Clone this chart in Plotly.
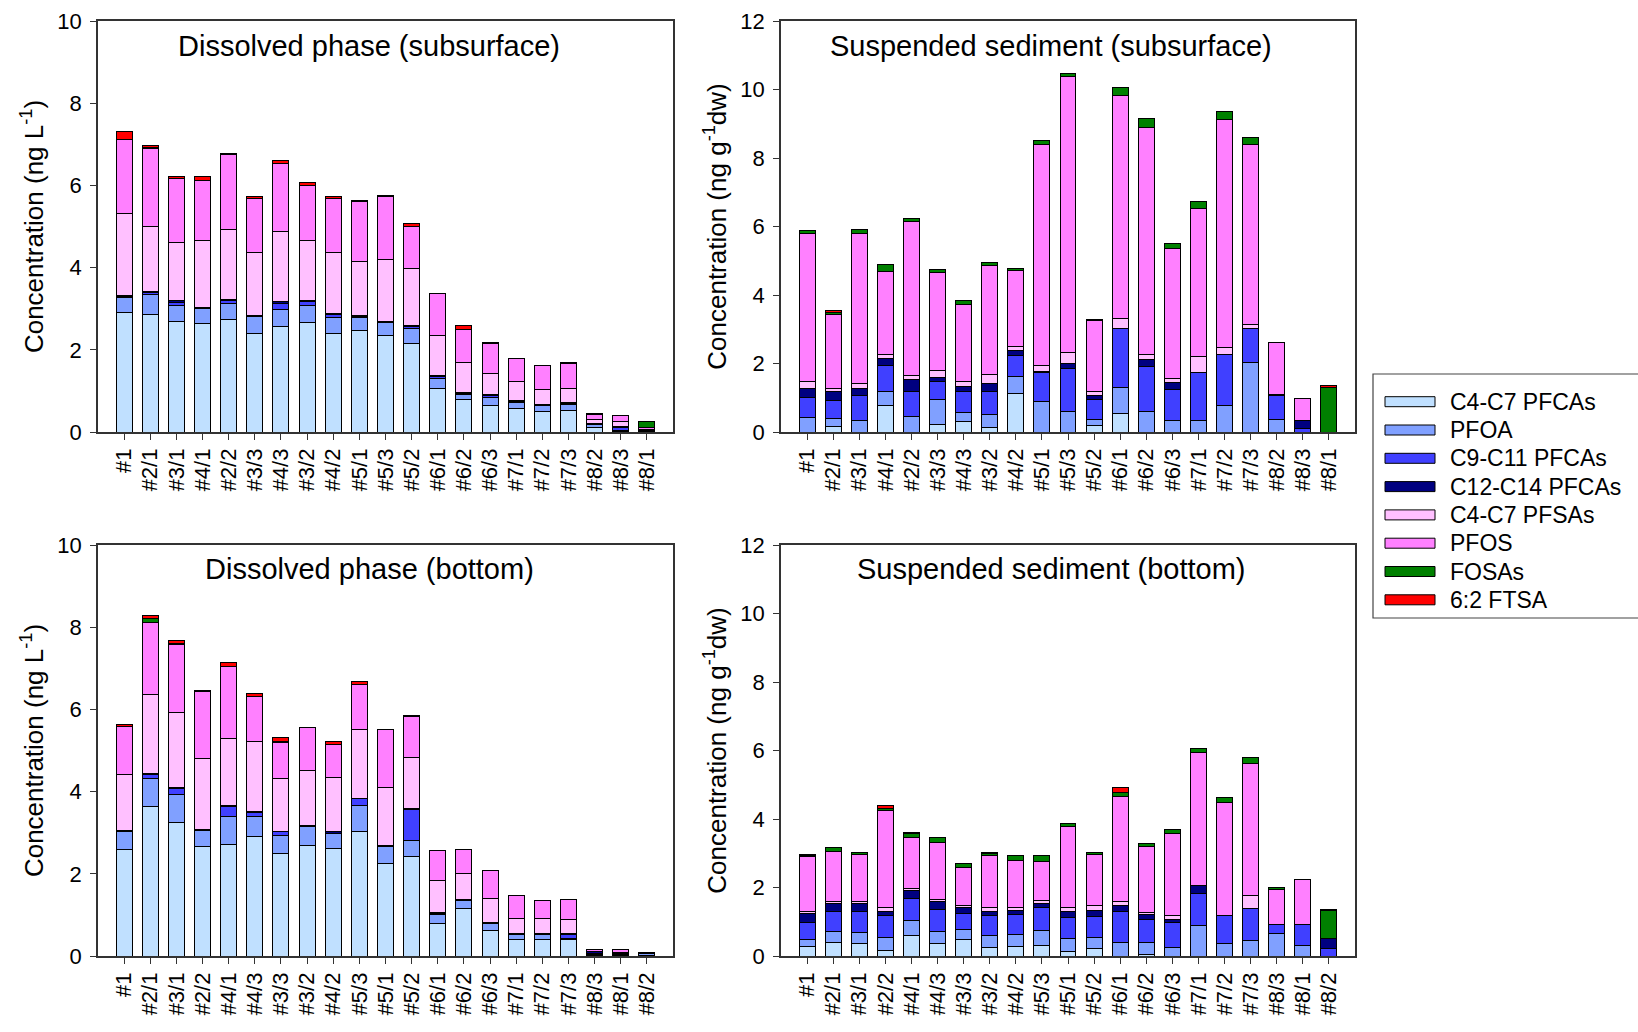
import plotly.graph_objects as go

# ---------------- data ----------------
SERIES = ["C4-C7 PFCAs", "PFOA", "C9-C11 PFCAs", "C12-C14 PFCAs",
          "C4-C7 PFSAs", "PFOS", "FOSAs", "6:2 FTSA"]
COLORS = ["#C0E0FF", "#80A0FF", "#4040FF", "#000080",
          "#FFC0FF", "#FF80FF", "#008000", "#FF0000"]

cats_top = ["#1", "#2/1", "#3/1", "#4/1", "#2/2", "#3/3", "#4/3", "#3/2", "#4/2", "#5/1", "#5/3",
            "#5/2", "#6/1", "#6/2", "#6/3", "#7/1", "#7/2", "#7/3", "#8/2", "#8/3", "#8/1"]
cats_bottom = ["#1", "#2/1", "#3/1", "#2/2", "#4/1", "#4/3", "#3/3", "#3/2", "#4/2", "#5/3", "#5/1",
               "#5/2", "#6/1", "#6/2", "#6/3", "#7/1", "#7/2", "#7/3", "#8/3", "#8/1", "#8/2"]

# Dissolved phase (subsurface), ng/L
ds_c4c7_pfca = [2.91, 2.87, 2.70, 2.65, 2.74, 2.39, 2.57, 2.67, 2.39, 2.47, 2.34, 2.16, 1.05, 0.78, 0.65, 0.57, 0.50, 0.52, 0.12, 0.02, 0.01]
ds_pfoa      = [0.37, 0.47, 0.39, 0.36, 0.39, 0.42, 0.40, 0.40, 0.39, 0.32, 0.32, 0.37, 0.24, 0.14, 0.19, 0.16, 0.15, 0.16, 0.06, 0.02, 0.01]
ds_c9c11     = [0.01, 0.05, 0.07, 0.01, 0.06, 0.01, 0.16, 0.10, 0.07, 0.01, 0.01, 0.04, 0.05, 0.01, 0.05, 0.01, 0.01, 0.01, 0.01, 0.06, 0.01]
ds_c12c14    = [0.02, 0.03, 0.03, 0.01, 0.03, 0.01, 0.04, 0.03, 0.03, 0.03, 0.03, 0.02, 0.03, 0.04, 0.03, 0.03, 0.01, 0.02, 0.02, 0.03, 0.01]
ds_c4c7_pfsa = [2.01, 1.57, 1.41, 1.62, 1.70, 1.54, 1.70, 1.45, 1.48, 1.32, 1.49, 1.39, 0.98, 0.72, 0.51, 0.47, 0.37, 0.35, 0.09, 0.13, 0.03]
ds_pfos      = [1.80, 1.91, 1.57, 1.46, 1.84, 1.32, 1.66, 1.34, 1.32, 1.45, 1.53, 1.03, 1.02, 0.81, 0.72, 0.55, 0.57, 0.61, 0.13, 0.14, 0.05]
ds_fosa      = [0, 0.02, 0, 0.02, 0, 0, 0, 0, 0, 0, 0, 0, 0, 0, 0, 0, 0, 0, 0, 0, 0.14]
ds_ftsa      = [0.18, 0.04, 0.04, 0.08, 0.01, 0.05, 0.08, 0.08, 0.04, 0.03, 0.04, 0.07, 0.01, 0.08, 0.03, 0.01, 0, 0.03, 0.01, 0, 0]

# Suspended sediment (subsurface), ng/g dw
ss_c4c7_pfca = [0, 0.15, 0, 0.78, 0, 0.21, 0.31, 0.14, 1.12, 0, 0, 0.18, 0.55, 0, 0, 0, 0, 0, 0, 0, 0]
ss_pfoa      = [0.41, 0.23, 0.33, 0.39, 0.46, 0.73, 0.26, 0.38, 0.50, 0.89, 0.60, 0.18, 0.75, 0.60, 0.34, 0.35, 0.77, 2.04, 0.36, 0, 0]
ss_c9c11     = [0.60, 0.54, 0.73, 0.76, 0.73, 0.54, 0.62, 0.67, 0.62, 0.86, 1.24, 0.58, 1.71, 1.31, 0.91, 1.39, 1.50, 0.97, 0.71, 0.09, 0]
ss_c12c14    = [0.25, 0.25, 0.22, 0.23, 0.34, 0.11, 0.14, 0.24, 0.13, 0.02, 0.17, 0.13, 0, 0.20, 0.20, 0, 0, 0.02, 0.02, 0.24, 0]
ss_c4c7_pfsa = [0.22, 0.11, 0.15, 0.09, 0.11, 0.20, 0.15, 0.26, 0.13, 0.17, 0.32, 0.10, 0.31, 0.16, 0.10, 0.45, 0.21, 0.10, 0, 0, 0]
ss_pfos      = [4.32, 2.14, 4.38, 2.45, 4.52, 2.87, 2.25, 3.17, 2.21, 6.44, 8.04, 2.08, 6.51, 6.62, 3.81, 4.34, 6.63, 5.25, 1.53, 0.64, 0]
ss_fosa      = [0.08, 0.07, 0.11, 0.20, 0.08, 0.09, 0.10, 0.09, 0.07, 0.14, 0.10, 0.04, 0.23, 0.25, 0.14, 0.19, 0.24, 0.22, 0, 0, 1.30]
ss_ftsa      = [0, 0.07, 0, 0, 0, 0, 0, 0, 0, 0, 0, 0, 0, 0, 0, 0, 0, 0, 0, 0, 0.05]

# Dissolved phase (bottom), ng/L
db_c4c7_pfca = [2.58, 3.63, 3.25, 2.66, 2.71, 2.90, 2.50, 2.70, 2.62, 3.04, 2.24, 2.41, 0.79, 1.16, 0.61, 0.41, 0.41, 0.41, 0.02, 0.01, 0.01]
db_pfoa      = [0.46, 0.68, 0.69, 0.40, 0.68, 0.49, 0.43, 0.46, 0.36, 0.61, 0.42, 0.41, 0.23, 0.19, 0.17, 0.12, 0.12, 0.02, 0.02, 0.01, 0.05]
db_c9c11     = [0, 0.11, 0.14, 0.02, 0.24, 0.10, 0.09, 0, 0.01, 0.18, 0.03, 0.75, 0.01, 0.01, 0.01, 0, 0, 0.10, 0.02, 0.01, 0.01]
db_c12c14    = [0.01, 0.01, 0.02, 0.01, 0.02, 0.02, 0.01, 0.01, 0.05, 0.01, 0.01, 0.01, 0.02, 0.02, 0.02, 0.02, 0.02, 0.02, 0.04, 0.04, 0.01]
db_c4c7_pfsa = [1.36, 1.94, 1.82, 1.71, 1.63, 1.70, 1.29, 1.35, 1.31, 1.68, 1.41, 1.26, 0.78, 0.63, 0.58, 0.37, 0.37, 0.35, 0.02, 0.01, 0]
db_pfos      = [1.18, 1.75, 1.67, 1.63, 1.77, 1.10, 0.87, 1.04, 0.79, 1.08, 1.39, 0.98, 0.73, 0.57, 0.68, 0.54, 0.44, 0.48, 0.04, 0.08, 0]
db_fosa      = [0, 0.08, 0.01, 0, 0, 0, 0.04, 0, 0.01, 0.01, 0, 0, 0, 0, 0, 0, 0, 0, 0, 0, 0]
db_ftsa      = [0.04, 0.08, 0.07, 0.02, 0.08, 0.07, 0.08, 0, 0.08, 0.08, 0, 0.03, 0, 0, 0, 0, 0, 0, 0.01, 0, 0]

# Suspended sediment (bottom), ng/g dw
sb_c4c7_pfca = [0.29, 0.39, 0.36, 0.17, 0.61, 0.36, 0.49, 0.26, 0.29, 0.31, 0.12, 0.22, 0, 0.05, 0, 0, 0, 0, 0, 0, 0]
sb_pfoa      = [0.20, 0.34, 0.34, 0.36, 0.43, 0.37, 0.29, 0.34, 0.34, 0.44, 0.40, 0.33, 0.39, 0.34, 0.24, 0.89, 0.37, 0.44, 0.65, 0.31, 0]
sb_c9c11     = [0.48, 0.56, 0.61, 0.64, 0.63, 0.63, 0.46, 0.57, 0.57, 0.66, 0.60, 0.60, 0.92, 0.68, 0.73, 0.94, 0.82, 0.94, 0.27, 0.61, 0.22]
sb_c12c14    = [0.27, 0.24, 0.22, 0.14, 0.23, 0.22, 0.17, 0.14, 0.13, 0.13, 0.19, 0.18, 0.15, 0.14, 0.10, 0.24, 0, 0, 0, 0, 0.29]
sb_c4c7_pfsa = [0.07, 0.07, 0.05, 0.10, 0.06, 0.07, 0.07, 0.10, 0.10, 0.09, 0.10, 0.13, 0.12, 0.07, 0.10, 0, 0, 0.39, 0, 0, 0]
sb_pfos      = [1.59, 1.46, 1.38, 2.84, 1.49, 1.65, 1.11, 1.52, 1.37, 1.14, 2.38, 1.50, 3.08, 1.93, 2.41, 3.86, 3.28, 3.85, 1.02, 1.32, 0]
sb_fosa      = [0.03, 0.12, 0.07, 0.06, 0.13, 0.15, 0.11, 0.05, 0.14, 0.17, 0.07, 0.05, 0.10, 0.07, 0.10, 0.14, 0.17, 0.18, 0.07, 0, 0.82]
sb_ftsa      = [0.02, 0, 0, 0.08, 0.04, 0, 0, 0.03, 0, 0, 0, 0, 0.15, 0, 0, 0, 0, 0, 0, 0, 0.04]

TITLES = ["Dissolved phase (subsurface)", "Suspended sediment (subsurface)",
          "Dissolved phase (bottom)", "Suspended sediment (bottom)"]

panels = [
    (cats_top, [ds_c4c7_pfca, ds_pfoa, ds_c9c11, ds_c12c14, ds_c4c7_pfsa, ds_pfos, ds_fosa, ds_ftsa]),
    (cats_top, [ss_c4c7_pfca, ss_pfoa, ss_c9c11, ss_c12c14, ss_c4c7_pfsa, ss_pfos, ss_fosa, ss_ftsa]),
    (cats_bottom, [db_c4c7_pfca, db_pfoa, db_c9c11, db_c12c14, db_c4c7_pfsa, db_pfos, db_fosa, db_ftsa]),
    (cats_bottom, [sb_c4c7_pfca, sb_pfoa, sb_c9c11, sb_c12c14, sb_c4c7_pfsa, sb_pfos, sb_fosa, sb_ftsa]),
]

# ---------------- figure ----------------
W, H = 1638, 1032
FONT = "Arial, 'Liberation Sans', sans-serif"

def px_x(p):
    return p / W

def px_y(p):
    return 1 - p / H

fig = go.Figure()

for k, (cats, series) in enumerate(panels):
    ax = "" if k == 0 else str(k + 1)
    for name, color, vals in zip(SERIES, COLORS, series):
        fig.add_trace(go.Bar(
            x=cats, y=[v if v else None for v in vals], name=name,
            marker=dict(color=color, line=dict(color="black", width=1)),
            xaxis="x" + ax, yaxis="y" + ax, showlegend=False,
        ))

xdom = [[px_x(98), px_x(673)], [px_x(781), px_x(1355)]]
ydom = [[px_y(432), px_y(21)], [px_y(956), px_y(545)]]
ymax = [10, 12, 10, 12]
ytitles = ["Concentration (ng L<sup>-1</sup>)", "Concentration (ng g<sup>-1</sup>dw)",
           "Concentration (ng L<sup>-1</sup>)", "Concentration (ng g<sup>-1</sup>dw)"]

layout = dict(
    width=W, height=H, autosize=False,
    margin=dict(l=0, r=0, t=0, b=0, autoexpand=False),
    paper_bgcolor="white", plot_bgcolor="white",
    barmode="stack", bargap=0.39,
    font=dict(family=FONT, color="black", size=22),
)

axis_common = dict(showline=True, mirror=True, linecolor="#333333", linewidth=1.5,
                   ticks="outside", tickcolor="#333333", ticklen=6, tickwidth=1.2,
                   showgrid=False, zeroline=False, automargin=False)

for k in range(4):
    ax = "" if k == 0 else str(k + 1)
    col, row = k % 2, k // 2
    layout["xaxis" + ax] = dict(axis_common, domain=xdom[col], anchor="y" + ax,
                                type="category", range=[-1, 21], tickangle=-90,
                                tickfont=dict(size=22))
    layout["yaxis" + ax] = dict(axis_common, domain=ydom[row], anchor="x" + ax,
                                range=[0, ymax[k]], dtick=2, tickfont=dict(size=22),
                                ticklabelstandoff=4,
                                title=dict(text=ytitles[k], font=dict(size=26), standoff=6))

annotations = []
title_x = [px_x(369), px_x(1051)]
title_y = [px_y(46), px_y(569)]
for k in range(4):
    annotations.append(dict(text=TITLES[k], x=title_x[k % 2], y=title_y[k // 2],
                            xref="paper", yref="paper", xanchor="center", yanchor="middle",
                            showarrow=False, font=dict(size=29)))

# legend (drawn with shapes + text)
shapes = [dict(type="rect", xref="paper", yref="paper",
               x0=px_x(1373), x1=px_x(1660), y0=px_y(618), y1=px_y(374),
               line=dict(color="#444444", width=1.2), fillcolor="white", layer="below")]
for i, (name, color) in enumerate(zip(SERIES, COLORS)):
    yc = 401.7 + i * 28.3
    shapes.append(dict(type="rect", xref="paper", yref="paper",
                       x0=px_x(1385), x1=px_x(1435), y0=px_y(yc + 5), y1=px_y(yc - 5),
                       fillcolor=color, line=dict(color="black", width=1)))
    annotations.append(dict(text=name, x=px_x(1448), y=px_y(yc), xref="paper", yref="paper",
                            xanchor="left", yanchor="middle", showarrow=False,
                            font=dict(size=23)))

layout["annotations"] = annotations
layout["shapes"] = shapes
fig.update_layout(**layout)

fig.write_html("out.html")
